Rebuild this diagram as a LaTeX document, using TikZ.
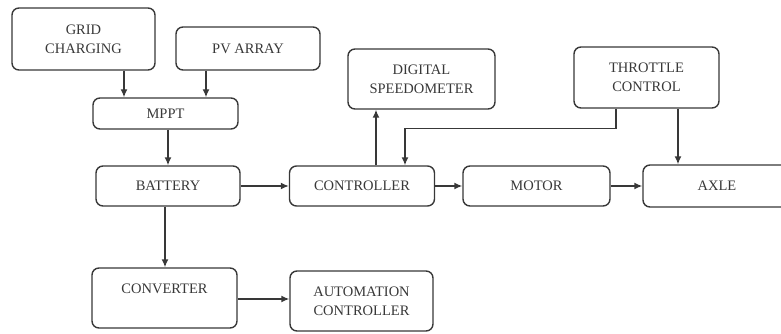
\documentclass[tikz,border=0pt]{standalone}
\usepackage{fontspec}
\setmainfont{Liberation Serif}
\usetikzlibrary{arrows.meta,calc}
\definecolor{ink}{HTML}{383838}
\begin{document}
\begin{tikzpicture}[x=1pt,y=-1pt,
  blk/.style={draw=ink, line width=1.4pt, rounded corners=7pt, align=center, text=ink,
    font=\fontsize{14.5}{19}\selectfont, inner sep=0pt},
  arr/.style={draw=ink, line width=1.4pt, -{Latex[length=8pt,width=7pt]}}]
\useasboundingbox (0,0) rectangle (781,334);
\clip (0,0) rectangle (781,334);
\node[blk, minimum width=143pt, minimum height=62pt] (grid) at (83.5,39) {GRID\\CHARGING};
\node[blk, minimum width=144pt, minimum height=43pt] (pv) at (248,48.5) {PV ARRAY};
\node[blk, minimum width=145pt, minimum height=31pt] (mppt) at (165.5,113.5) {MPPT};
\node[blk, minimum width=144pt, minimum height=40pt] (battery) at (168,186) {BATTERY};
\node[blk, minimum width=145pt, minimum height=40pt] (controller) at (362,186) {CONTROLLER};
\node[blk, minimum width=147pt, minimum height=60pt] (speedo) at (421.5,79) {DIGITAL\\SPEEDOMETER};
\node[blk, minimum width=145pt, minimum height=61pt] (throttle) at (646.5,77.5) {THROTTLE\\CONTROL};
\node[blk, minimum width=147pt, minimum height=40pt] (motor) at (536.5,186) {MOTOR};
\node[blk, minimum width=148pt, minimum height=42pt] (axle) at (717,186) {AXLE};
\node[blk, minimum width=145pt, minimum height=60pt, text depth=30pt, text height=20pt] (converter) at (164.5,298) {CONVERTER};
\node[blk, minimum width=143pt, minimum height=60pt] (automation) at (361.5,301) {AUTOMATION\\CONTROLLER};

\draw[arr] ([xshift=40.5pt]grid.south) -- ([xshift=40.5pt]grid.south |- mppt.north);
\draw[arr] ([xshift=-42pt]pv.south) -- ([xshift=-42pt]pv.south |- mppt.north);
\draw[arr] ([xshift=2.5pt]mppt.south) -- ([xshift=2.5pt]mppt.south |- battery.north);
\draw[arr] (battery.east) -- (controller.west);
\draw[arr] ([xshift=14pt]controller.north) -- ([xshift=14pt]controller.north |- speedo.south);
\coordinate (tbend) at ([xshift=-30.5pt,yshift=-20pt]throttle.south);
\coordinate (cin) at ([xshift=43pt]controller.north);
\draw[arr] ([xshift=-30.5pt]throttle.south) -- (tbend) -- (tbend -| cin) -- (cin);
\draw[arr] ([xshift=31.5pt]throttle.south) -- ([xshift=31.5pt]throttle.south |- axle.north);
\draw[arr] (controller.east) -- (motor.west);
\draw[arr] (motor.east) -- (axle.west);
\draw[arr] ([xshift=-3pt]battery.south) -- ([xshift=-3pt]battery.south |- converter.north);
\draw[arr] ([yshift=-1pt]converter.east) -- ([yshift=-1pt]converter.east -| automation.west);
\end{tikzpicture}
\end{document}
